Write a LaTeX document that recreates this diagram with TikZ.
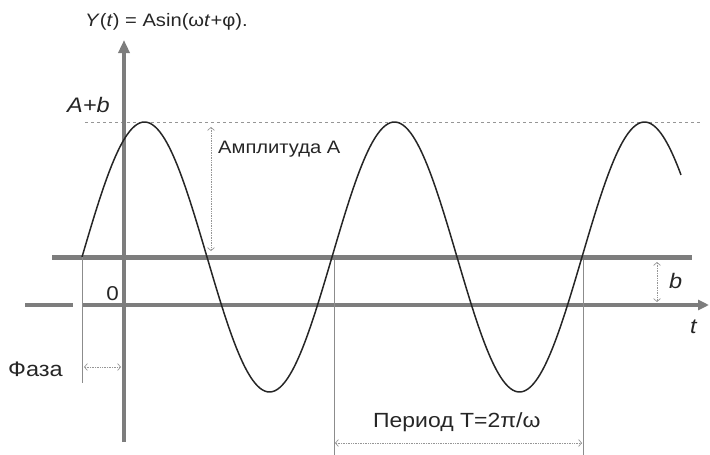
\documentclass[tikz,border=0pt]{standalone}
\usepackage{fontspec}
\setmainfont{Liberation Sans}[FakeStretch=1.12]
\usetikzlibrary{arrows.meta}
\definecolor{axisgray}{RGB}{125,125,125}
\definecolor{dimgray}{RGB}{150,150,150}
\definecolor{extgray}{RGB}{140,140,140}
\begin{document}
\begin{tikzpicture}[x=1pt,y=-1pt,
  axisline/.style={draw=axisgray, line width=4pt},
  dimline/.style={draw=dimgray, line width=0.7pt, densely dotted,
    {Straight Barb[length=3pt,width=7pt]}-{Straight Barb[length=3pt,width=7pt]}},
  extline/.style={draw=extgray, line width=0.9pt},
  topline/.style={draw=dimgray, line width=0.7pt, dashed},
  curve/.style={draw=black!85, line width=1.5pt},
  lbl/.style={inner sep=0pt, text=black!85}]
\useasboundingbox (0,0) rectangle (710,455);

% coordinates
\coordinate (ybot) at (124,442);
\coordinate (ytop) at (124,40);
\coordinate (mL) at (52,257);
\coordinate (mR) at (692,257);
\coordinate (tL1) at (25,305);
\coordinate (tL2) at (73,305);
\coordinate (tS) at (82,305);
\coordinate (tE) at (709,305);
\coordinate (dL) at (85,122);
\coordinate (dR) at (700,122);

% axes and lines
\draw[topline] (dL) -- (dR);
\draw[axisline, line width=5pt] (mL) -- (mR);
\draw[axisline, line width=3.5pt] (tL1) -- (tL2);
\draw[axisline, line width=3.5pt, -{Triangle[length=11pt,width=10pt]}] (tS) -- (tE);
\draw[axisline, -{Triangle[length=13pt,width=11pt]}] (ybot) -- (ytop);

% sine curve
\draw[curve] plot[domain=82:681, samples=240, smooth] (\x, {257 - 135*sin((\x-82)/250*360)});

% extension lines
\coordinate (c0) at (82,257);
\coordinate (c0b) at (82,383);
\coordinate (c1) at (334,260);
\coordinate (c1b) at (334,455);
\coordinate (c2) at (583,260);
\coordinate (c2b) at (583,455);
\draw[extline] (c0) -- (c0b);
\draw[extline] (c1) -- (c1b);
\draw[extline] (c2) -- (c2b);

% dimension arrows
\coordinate (pA) at (84,367);
\coordinate (pB) at (121,367);
\draw[dimline] (pA) -- (pB);
\coordinate (aA) at (211,127);
\coordinate (aB) at (211,251);
\draw[dimline] (aA) -- (aB);
\coordinate (bA) at (657,262);
\coordinate (bB) at (657,302);
\draw[dimline] (bA) -- (bB);
\coordinate (TA) at (335,443);
\coordinate (TB) at (582,443);
\draw[dimline] (TA) -- (TB);

% labels
\node[lbl, anchor=base west, font=\fontsize{18}{22}\selectfont] (title) at (85,27) {\textit{Y}(\textit{t}) = Asin(ω\textit{t}+φ).};
\node[lbl, anchor=base west, font=\fontsize{21}{24}\selectfont] (apb) at (67,112) {\textit{A+b}};
\node[lbl, anchor=base west, font=\fontsize{18}{22}\selectfont] (amp) at (218,153) {Амплитуда А};
\node[lbl, anchor=base east, font=\fontsize{20}{24}\selectfont] (zero) at (119,300) {0};
\node[lbl, anchor=base west, font=\fontsize{21}{24}\selectfont] (blbl) at (669,288) {\textit{b}};
\node[lbl, anchor=base west, font=\fontsize{21}{24}\selectfont] (tlbl) at (690,333) {\textit{t}};
\node[lbl, anchor=base west, font=\fontsize{21}{24}\selectfont] (phase) at (8,376) {Фаза};
\node[lbl, anchor=base west, font=\fontsize{20.5}{24}\selectfont] (period) at (373,427) {Период T=2π/ω};
\end{tikzpicture}
\end{document}
